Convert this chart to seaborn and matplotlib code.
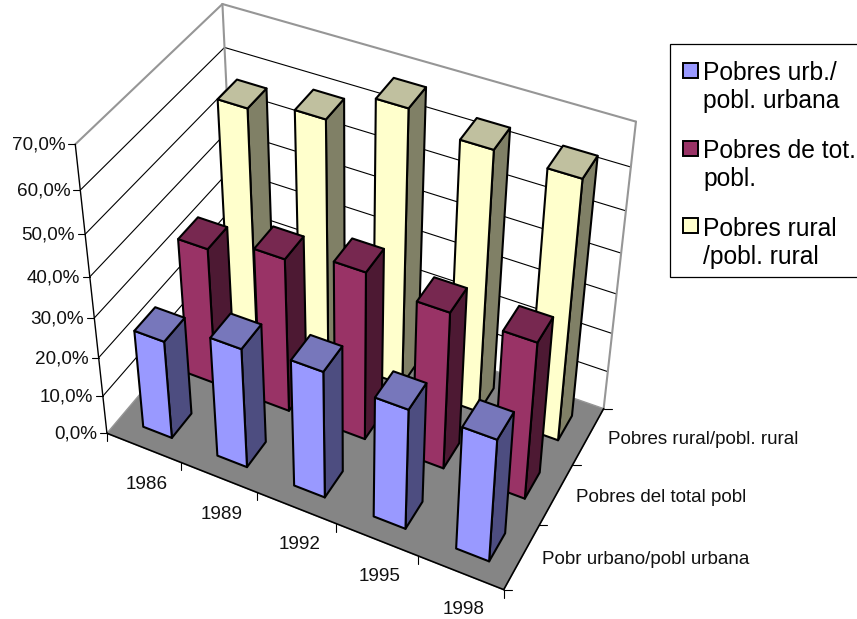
import numpy as np
import pandas as pd
import seaborn as sns
import matplotlib.pyplot as plt
from matplotlib.patches import Rectangle

years = ['1986', '1989', '1992', '1995', '1998']
axis_series = ['Pobr urbano/pobl urbana', 'Pobres del total pobl', 'Pobres rural/pobl. rural']
urban = [25.2, 30.5, 32.2, 30.5, 31.0]
total = [35.0, 39.0, 42.4, 39.6, 39.5]
rural = [57.0, 60.0, 68.0, 64.5, 64.0]
y_ticks = [0, 10, 20, 30, 40, 50, 60, 70]
y_labels = ['0,0%', '10,0%', '20,0%', '30,0%', '40,0%', '50,0%', '60,0%', '70,0%']
legend_labels = ['Pobres urb./\npobl. urbana', 'Pobres de tot.\npobl.', 'Pobres rural\n/pobl. rural']

# front, top, side colours for each series
front_colors = ['#9999FF', '#993366', '#FFFFCC']
top_colors = ['#7777BB', '#772850', '#C0C09F']
side_colors = ['#4D4D80', '#4D1933', '#808066']

df = pd.DataFrame({'year': years, 0: urban, 1: total, 2: rural})
df = df.melt(id_vars='year', var_name='row', value_name='value')
df['col'] = df['year'].map({y: i for i, y in enumerate(years)})

# camera fitted on the corners of the chart box: (col, row, pct) -> pixel
calib_3d = [(0, 0, 0), (5, 0, 0), (5, 3, 0), (0, 3, 0), (0, 0, 70), (0, 3, 70), (5, 3, 70),
            (0, 0, 30), (2, 0, 0), (5, 1, 0), (5, 2, 0), (0, 0, 60), (0, 3, 60)]
calib_px = [(109, 435), (503, 587), (603, 411), (235, 277), (75, 143), (223, 5), (636, 120),
            (91, 319), (258, 493), (540, 525), (573, 466), (81, 190), (225, 49)]
A, b = [], []
for (x, y, z), (u, v) in zip(calib_3d, calib_px):
    A.append([x, y, z, 1, 0, 0, 0, 0, -u * x, -u * y, -u * z])
    A.append([0, 0, 0, 0, x, y, z, 1, -v * x, -v * y, -v * z])
    b += [u, v]
cam = np.append(np.linalg.lstsq(np.array(A, float), np.array(b, float), rcond=None)[0], 1).reshape(3, 4)


def project(x, y, z):
    p = cam @ np.array([x, y, z, 1.0])
    return p[0] / p[2], p[1] / p[2]


def face(ax, pts, color, ec='black', lw=1.5, zorder=5):
    xy = [project(*p) for p in pts]
    ax.fill([q[0] for q in xy], [q[1] for q in xy], facecolor=color, edgecolor=ec, linewidth=lw,
            joinstyle='round', zorder=zorder)


def line3(ax, a, b, color='black', lw=0.8):
    pa, pb = project(*a), project(*b)
    ax.plot([pa[0], pb[0]], [pa[1], pb[1]], color=color, linewidth=lw, solid_capstyle='round')


sns.set_theme(style='white')
plt.rcParams['font.family'] = ['Liberation Sans', 'DejaVu Sans']

fig = plt.figure(figsize=(8.57, 6.19), dpi=100)
ax = fig.add_axes([0, 0, 1, 1])
ax.set_xlim(0, 857)
ax.set_ylim(619, 0)
ax.axis('off')

nx, ny, zmax = len(years), len(axis_series), 70
grey = '#969696'

# floor
face(ax, [(0, 0, 0), (nx, 0, 0), (nx, ny, 0), (0, ny, 0)], '#858585', ec=grey, lw=1.0, zorder=1)

# walls and gridlines
for z in y_ticks[1:-1]:
    line3(ax, (0, 0, z), (0, ny, z))
    line3(ax, (0, ny, z), (nx, ny, z))
line3(ax, (0, 0, zmax), (0, ny, zmax), grey, 1.5)
line3(ax, (0, ny, zmax), (nx, ny, zmax), grey, 1.5)
line3(ax, (0, ny, 0), (0, ny, zmax), grey, 1.5)
line3(ax, (nx, ny, 0), (nx, ny, zmax), grey, 1.5)

# front axes and ticks
line3(ax, (0, 0, 0), (0, 0, zmax), 'black', 1.0)
line3(ax, (0, 0, 0), (nx, 0, 0), 'black', 1.2)
line3(ax, (nx, 0, 0), (nx, ny, 0), 'black', 1.2)
for z, lab in zip(y_ticks, y_labels):
    u, v = project(0, 0, z)
    ax.plot([u - 7, u], [v, v], color='black', linewidth=0.8)
    ax.text(u - 10, v + 1, lab, ha='right', va='center', fontsize=13.6, color='#111111')
for i in range(nx + 1):
    u, v = project(i, 0, 0)
    ax.plot([u, u], [v, v + 8], color='black', linewidth=0.8)
for j in range(ny + 1):
    u, v = project(nx, j, 0)
    ax.plot([u, u + 8], [v, v], color='black', linewidth=0.8)
for i, lab in enumerate(years):
    u, v = project(i + 0.5, 0, 0)
    ax.text(u + 3, v + 37, lab, ha='center', va='center', fontsize=13.6, color='#111111')
for j, lab in enumerate(axis_series):
    u, v = project(nx, j + 0.5, 0)
    ax.text(u + 20, v + 3, lab, ha='left', va='center', fontsize=13.5, color='#111111')

# bars, back row first
hx, hy = 0.195, 0.22
for j in reversed(range(ny)):
    row = df[df['row'] == j].sort_values('col')
    for i, h in zip(row['col'], row['value']):
        x0, x1 = i + 0.515 - hx, i + 0.515 + hx
        y0, y1 = j + 0.5 - hy, j + 0.5 + hy
        face(ax, [(x1, y0, 0), (x1, y1, 0), (x1, y1, h), (x1, y0, h)], side_colors[j])
        face(ax, [(x0, y0, 0), (x1, y0, 0), (x1, y0, h), (x0, y0, h)], front_colors[j])
        face(ax, [(x0, y0, h), (x1, y0, h), (x1, y1, h), (x0, y1, h)], top_colors[j])

# legend box runs off the right edge like the original
ax.add_patch(Rectangle((670, 44), 220, 233, facecolor='white', edgecolor='black', linewidth=0.9))
swatch_y = [63, 141, 218]
text_y = [87, 165, 243]
for k, lab in enumerate(legend_labels):
    ax.add_patch(Rectangle((683, swatch_y[k]), 15, 15, facecolor=front_colors[k], edgecolor='black',
                           linewidth=1.4, zorder=6))
    ax.text(703, text_y[k], lab, ha='left', va='center', fontsize=17.7, color='black', linespacing=1.22)

fig.savefig('out.png', dpi=100)
